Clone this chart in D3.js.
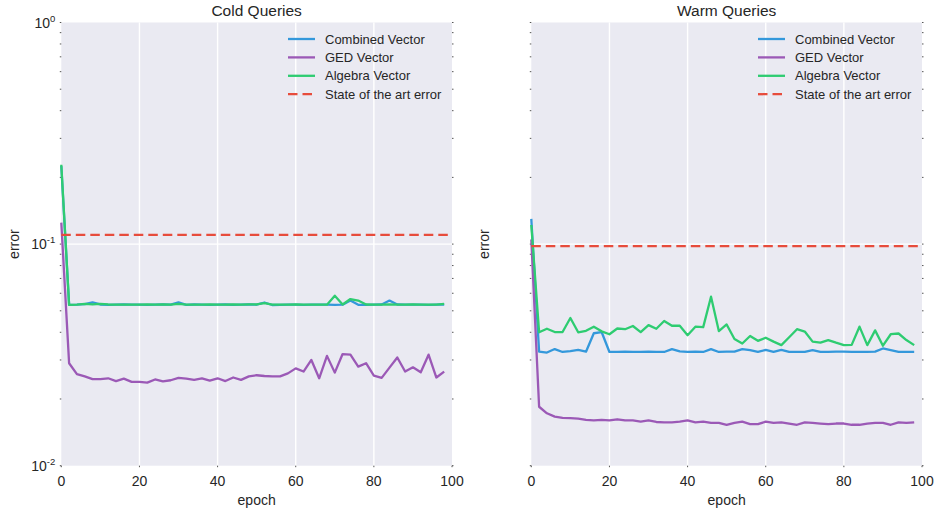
<!DOCTYPE html>
<html>
<head>
<meta charset="utf-8">
<script src="https://cdn.jsdelivr.net/npm/d3@7"></script>
<style>
  body { margin: 0; background: #fff; }
  text { font-family: "Liberation Sans", Arial, sans-serif; fill: #262626; }
</style>
</head>
<body>
<div class="canvas"></div>
<script>
// epochs 0,2,...,98
const epochs = d3.range(0, 100, 2)

const seriesNames = ['Combined Vector', 'GED Vector', 'Algebra Vector', 'State of the art error']
const seriesColors = ['#3498db', '#9b59b6', '#2ecc71', '#e74c3c']

const xTicks = [0, 20, 40, 60, 80, 100]
const yTicks = [1, 0.1, 0.01]
const yTickLabels = [['10', '0'], ['10', '-1'], ['10', '-2']]

// cold queries
const coldCombined = [0.225, 0.0532, 0.0533, 0.0536, 0.0546, 0.0534, 0.0532, 0.0533, 0.0534, 0.0533,
  0.0533, 0.0532, 0.0533, 0.0534, 0.0533, 0.0546, 0.0532, 0.0534, 0.0533, 0.0532,
  0.0533, 0.0534, 0.0532, 0.0533, 0.0534, 0.0533, 0.0545, 0.0531, 0.0532, 0.0533,
  0.0533, 0.0532, 0.0533, 0.0533, 0.0533, 0.0532, 0.0533, 0.0556, 0.0532, 0.0532,
  0.0533, 0.0534, 0.0556, 0.0534, 0.0533, 0.0533, 0.0533, 0.0532, 0.0533, 0.0534]
const coldGED = [0.125, 0.0290, 0.0259, 0.0253, 0.0246, 0.0246, 0.0248, 0.0241, 0.0247, 0.0239,
  0.0239, 0.0237, 0.0245, 0.0240, 0.0243, 0.0249, 0.0247, 0.0244, 0.0248, 0.0242,
  0.0248, 0.0241, 0.0250, 0.0244, 0.0253, 0.0256, 0.0254, 0.0253, 0.0253, 0.0261,
  0.0275, 0.0266, 0.0300, 0.0248, 0.0313, 0.0263, 0.0319, 0.0317, 0.0280, 0.0290,
  0.0255, 0.0249, 0.0277, 0.0308, 0.0266, 0.0278, 0.0264, 0.0317, 0.0250, 0.0266]
const coldAlgebra = [0.228, 0.0532, 0.0533, 0.0537, 0.0534, 0.0537, 0.0534, 0.0533, 0.0533, 0.0533,
  0.0533, 0.0534, 0.0533, 0.0534, 0.0533, 0.0537, 0.0533, 0.0533, 0.0533, 0.0534,
  0.0533, 0.0533, 0.0534, 0.0533, 0.0535, 0.0534, 0.0541, 0.0533, 0.0533, 0.0533,
  0.0534, 0.0533, 0.0533, 0.0533, 0.0533, 0.0585, 0.0534, 0.0565, 0.0556, 0.0534,
  0.0533, 0.0533, 0.0535, 0.0533, 0.0533, 0.0534, 0.0533, 0.0533, 0.0533, 0.0537]
const coldStateOfArt = 0.110

// warm queries
const warmCombined = [0.130, 0.0327, 0.0324, 0.0336, 0.0326, 0.0329, 0.0333, 0.0327, 0.0396, 0.0401,
  0.0326, 0.0326, 0.0327, 0.0326, 0.0326, 0.0327, 0.0326, 0.0326, 0.0336, 0.0328,
  0.0326, 0.0327, 0.0326, 0.0336, 0.0326, 0.0327, 0.0327, 0.0336, 0.0332, 0.0326,
  0.0333, 0.0326, 0.0333, 0.0326, 0.0326, 0.0326, 0.0332, 0.0326, 0.0326, 0.0327,
  0.0327, 0.0326, 0.0326, 0.0326, 0.0327, 0.0338, 0.0332, 0.0326, 0.0326, 0.0326]
const warmGED = [0.105, 0.01845, 0.01724, 0.01665, 0.01642, 0.0164, 0.0163, 0.0161, 0.0160, 0.0161,
  0.0160, 0.0162, 0.0160, 0.0160, 0.0158, 0.0160, 0.01575, 0.0157, 0.0157, 0.0158,
  0.0160, 0.0157, 0.0158, 0.0156, 0.0156, 0.0153, 0.0156, 0.0158, 0.0154, 0.0154,
  0.0158, 0.0156, 0.0157, 0.0155, 0.0153, 0.0157, 0.0156, 0.0155, 0.0154, 0.0155,
  0.0155, 0.0153, 0.0153, 0.0155, 0.0156, 0.0156, 0.0153, 0.0157, 0.0156, 0.0157]
const warmAlgebra = [0.122, 0.0400, 0.0415, 0.0401, 0.0401, 0.0464, 0.0400, 0.0406, 0.0424, 0.0404,
  0.0392, 0.0416, 0.0413, 0.0427, 0.0401, 0.0431, 0.0415, 0.0450, 0.0428, 0.0428,
  0.0388, 0.0424, 0.0422, 0.0579, 0.0405, 0.0434, 0.0373, 0.0356, 0.0385, 0.0366,
  0.0378, 0.0363, 0.0350, 0.0380, 0.0413, 0.0403, 0.0363, 0.0359, 0.0369, 0.0359,
  0.0350, 0.0351, 0.0424, 0.0350, 0.0408, 0.0348, 0.0392, 0.0395, 0.0369, 0.0350]
const warmStateOfArt = 0.098

const canvas = d3.select('.canvas')
const svg = canvas.append('svg')
    .attr('width', 934)
    .attr('height', 513)

//minor tick positions for the log axis
const minorTicks = []
;[0.01, 0.1].forEach(d => { for (let k = 2; k <= 9; k++) minorTicks.push(d * k) })

function panel(left, title, series, sota, showYLabels) {
    const x = d3.scaleLinear().domain([0, 100]).range([left, left + 390.7])
    const y = d3.scaleLog().domain([0.01, 1]).range([465.7, 22.5])
    const g = svg.append('g')

    g.append('rect')
        .attr('x', x(0)).attr('y', y(1))
        .attr('width', x(100) - x(0)).attr('height', y(0.01) - y(1))
        .attr('fill', '#eaeaf2')

    //white grid lines
    g.selectAll('.vgrid').data(xTicks.slice(1, -1)).join('line')
        .attr('x1', d => x(d)).attr('x2', d => x(d))
        .attr('y1', y(1)).attr('y2', y(0.01))
        .attr('stroke', '#fff').attr('stroke-width', 1.4)
    g.selectAll('.hgrid').data([0.1]).join('line')
        .attr('x1', x(0)).attr('x2', x(100))
        .attr('y1', d => y(d)).attr('y2', d => y(d))
        .attr('stroke', '#fff').attr('stroke-width', 1.4)

    //small tick marks on both sides
    const allY = yTicks.concat(minorTicks)
    ;[x(0), x(100)].forEach((sx, i) => {
        g.selectAll(null).data(allY).join('line')
            .attr('x1', sx).attr('x2', i === 0 ? sx - 1.5 : sx + 1.5)
            .attr('y1', d => y(d)).attr('y2', d => y(d))
            .attr('stroke', '#555').attr('stroke-width', 1)
    })
    g.selectAll(null).data(xTicks).join('line')
        .attr('x1', d => x(d)).attr('x2', d => x(d))
        .attr('y1', y(0.01)).attr('y2', y(0.01) + 1.5)
        .attr('stroke', '#555').attr('stroke-width', 1)

    //lines
    const line = d3.line().x((d, i) => x(epochs[i])).y(d => y(d))
    series.forEach((s, i) => {
        g.append('path')
            .datum(s)
            .attr('d', line)
            .attr('fill', 'none')
            .attr('stroke', seriesColors[i])
            .attr('stroke-width', 2.3)
            .attr('stroke-linejoin', 'round')
    })
    g.append('line')
        .attr('x1', x(0)).attr('x2', x(100))
        .attr('y1', y(sota)).attr('y2', y(sota))
        .attr('stroke', seriesColors[3])
        .attr('stroke-width', 2.3)
        .attr('stroke-dasharray', '9.5,5')

    //x tick labels
    g.selectAll(null).data(xTicks).join('text')
        .attr('x', d => x(d)).attr('y', 486)
        .attr('text-anchor', 'middle')
        .style('font-size', '14px')
        .text(d => d)

    //y tick labels
    if (showYLabels) {
        yTicks.forEach((d, i) => {
            const t = g.append('text')
                .attr('x', x(0) - 6).attr('y', y(d) + 5)
                .attr('text-anchor', 'end')
                .style('font-size', '14px')
            t.append('tspan').text(yTickLabels[i][0])
            t.append('tspan').attr('dy', -6).style('font-size', '9.5px').text(yTickLabels[i][1])
        })
    }

    g.append('text')
        .attr('x', (x(0) + x(100)) / 2).attr('y', 505)
        .attr('text-anchor', 'middle')
        .style('font-size', '14px')
        .text('epoch')
    g.append('text')
        .attr('transform', `translate(${left - 42},${y(0.1)}) rotate(-90)`)
        .attr('text-anchor', 'middle')
        .style('font-size', '14px')
        .text('error')
    g.append('text')
        .attr('x', (x(0) + x(100)) / 2).attr('y', 16)
        .attr('text-anchor', 'middle')
        .style('font-size', '15.5px')
        .text(title)

    //legend
    const lg = g.append('g').attr('transform', `translate(${left + 226.7},39)`)
    seriesNames.forEach((name, i) => {
        const row = lg.append('g').attr('transform', `translate(0,${i * 18.4})`)
        row.append('line')
            .attr('x1', 0).attr('x2', 27)
            .attr('stroke', seriesColors[i])
            .attr('stroke-width', 2.3)
            .attr('stroke-dasharray', i === 3 ? '9.5,5' : null)
        row.append('text')
            .attr('x', 37).attr('y', 4.5)
            .style('font-size', '13px')
            .text(name)
    })
}

panel(61.3, 'Cold Queries', [coldCombined, coldGED, coldAlgebra], coldStateOfArt, true)
panel(531.3, 'Warm Queries', [warmCombined, warmGED, warmAlgebra], warmStateOfArt, false)
</script>
</body>
</html>
